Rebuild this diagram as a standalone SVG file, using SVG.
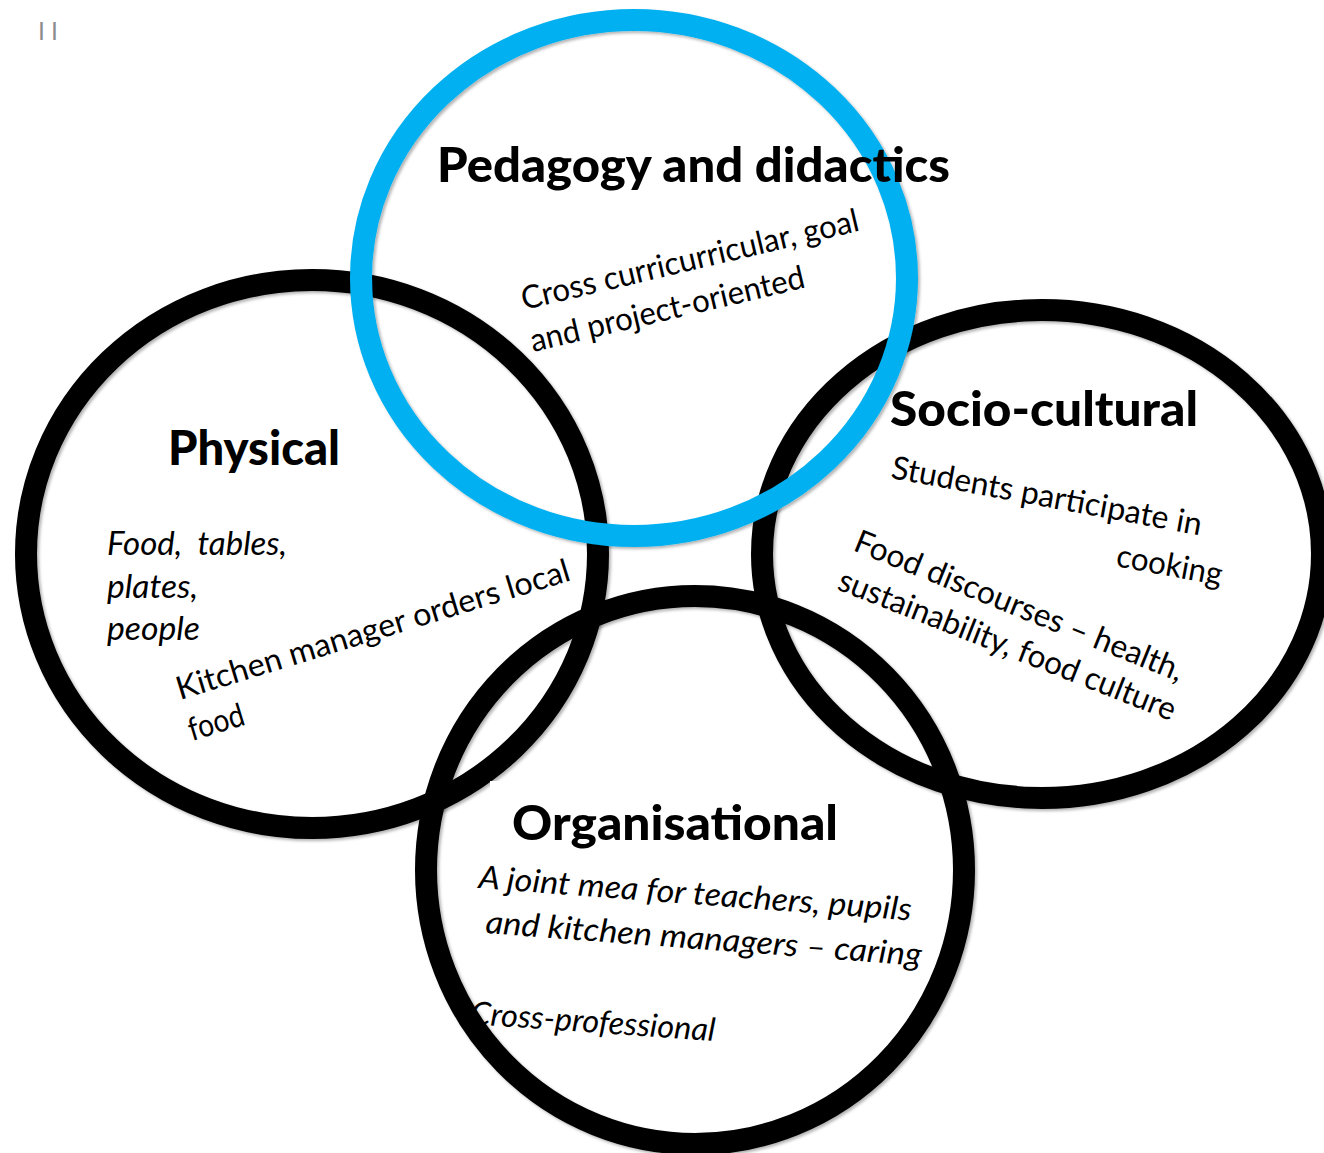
<svg xmlns="http://www.w3.org/2000/svg" width="1324" height="1153" viewBox="0 0 1324 1153">
<defs>
<filter id="sh" x="-10%" y="-10%" width="120%" height="120%">
<feDropShadow dx="2" dy="2" stdDeviation="1.5" flood-color="#000" flood-opacity="0.3"/>
</filter>
<style>
.ring{fill:none;stroke:#000;stroke-width:22;filter:url(#sh)}
.blue{fill:none;stroke:#00B0F0;stroke-width:22;filter:url(#sh)}
.h{font-family:Lato,"Open Sans","Liberation Sans",sans-serif;font-weight:900;font-size:48px;fill:#000}
.b{font-family:Lato,"Open Sans","Liberation Sans",sans-serif;font-size:32px;fill:#000}
.i{font-style:italic}
.pg{font-family:"Liberation Sans",sans-serif;font-size:25px;fill:#8c8c8c}
</style>
</defs>
<rect width="1324" height="1153" fill="#fff"/>
<text class="pg" x="38" y="40" textLength="20" lengthAdjust="spacing">I I</text>
<g id="connectors"/>
<g id="physical">
<ellipse class="ring" cx="312" cy="554" rx="286" ry="274"/>
<text class="h" x="168" y="465" textLength="172" lengthAdjust="spacingAndGlyphs">Physical</text>
<text class="b i" x="107" y="555" textLength="180" lengthAdjust="spacingAndGlyphs">Food,&#160; tables,</text>
<text class="b i" x="107" y="598" textLength="91" lengthAdjust="spacingAndGlyphs">plates,</text>
<text class="b i" x="107" y="640" textLength="93" lengthAdjust="spacingAndGlyphs">people</text>
<text class="b" x="180" y="700" transform="rotate(-17 180 700)" textLength="410" lengthAdjust="spacingAndGlyphs">Kitchen manager orders local</text>
<text class="b" x="192" y="741" transform="rotate(-17 192 741)" textLength="57" lengthAdjust="spacingAndGlyphs">food</text>
</g>
<g id="organisational">
<rect x="490" y="781" width="380" height="70" fill="#fff"/>
<text class="h" x="512" y="840" textLength="326" lengthAdjust="spacingAndGlyphs">Organisational</text>
<text class="b i" x="478" y="888" transform="rotate(4.3 478 888)" textLength="434" lengthAdjust="spacingAndGlyphs">A joint mea for teachers, pupils</text>
<text class="b i" x="485" y="933" transform="rotate(4.3 485 933)" textLength="437" lengthAdjust="spacingAndGlyphs">and kitchen managers – caring</text>
<text class="b i" x="470" y="1024" transform="rotate(4 470 1024)" textLength="245" lengthAdjust="spacingAndGlyphs">Cross-professional</text>
<ellipse class="ring" cx="695" cy="870" rx="269" ry="274"/>
</g>
<g id="socio-cultural">
<ellipse class="ring" cx="1042" cy="554" rx="280" ry="244"/>
<text class="h" x="890" y="426" textLength="308" lengthAdjust="spacingAndGlyphs">Socio-cultural</text>
<text class="b" x="890" y="478" transform="rotate(10.5 890 478)" textLength="315" lengthAdjust="spacingAndGlyphs">Students participate in</text>
<text class="b" x="1115" y="566" transform="rotate(10.5 1115 566)" textLength="107" lengthAdjust="spacingAndGlyphs">cooking</text>
<text class="b" x="852" y="550" transform="rotate(22 852 550)" textLength="352" lengthAdjust="spacingAndGlyphs">Food discourses – health,</text>
<text class="b" x="836" y="589" transform="rotate(21.5 836 589)" textLength="360" lengthAdjust="spacingAndGlyphs">sustainability, food culture</text>
</g>
<g id="pedagogy">
<ellipse class="blue" cx="634" cy="278" rx="273" ry="258"/>
<text class="h" x="437" y="182" textLength="513" lengthAdjust="spacingAndGlyphs">Pedagogy and didactics</text>
<text class="b" x="524" y="310" transform="rotate(-13.3 524 310)" textLength="346" lengthAdjust="spacingAndGlyphs">Cross curricurricular, goal</text>
<text class="b" x="533" y="352" transform="rotate(-13.3 533 352)" textLength="281" lengthAdjust="spacingAndGlyphs">and project-oriented</text>
</g>
</svg>
